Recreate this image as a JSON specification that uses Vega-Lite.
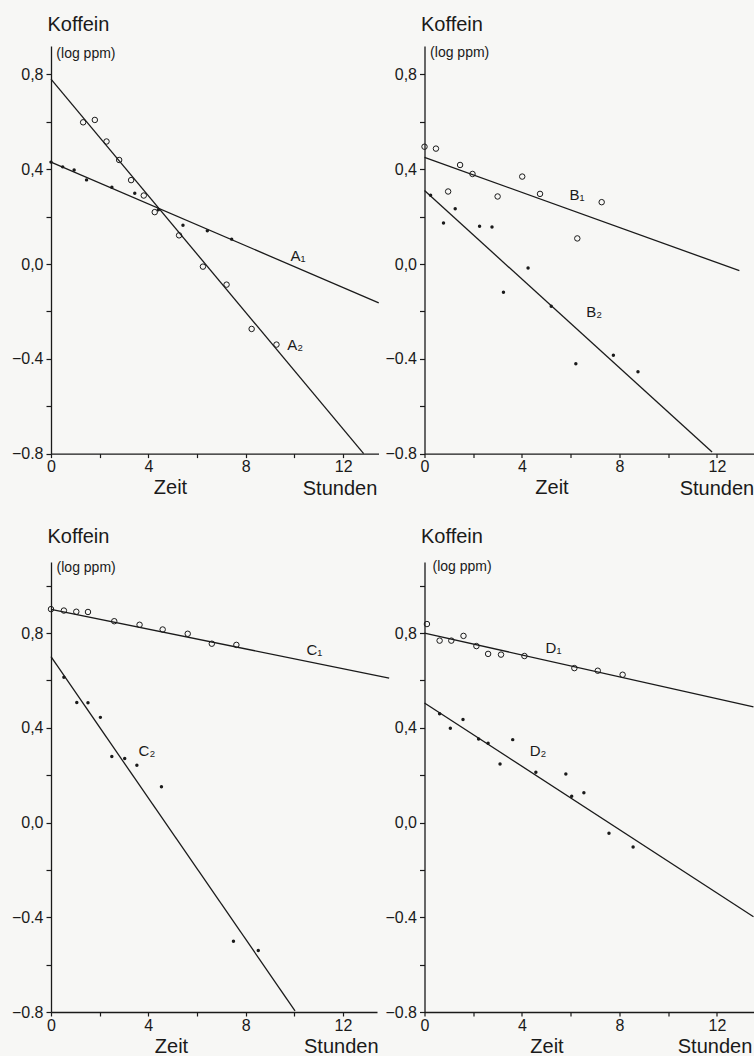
{
  "$schema": "https://vega.github.io/schema/vega-lite/v6.json",
  "background": "#f7f7f5",
  "padding": {"left": 11, "top": 14, "right": 0, "bottom": 0},
  "columns": 2,
  "bounds": "flush",
  "spacing": {"row": 108, "column": 45.5},
  "config": {
    "view": {"stroke": null},
    "font": "Liberation Sans",
    "axis": {"domainColor": "#1a1a1a", "domainWidth": 1.3, "tickColor": "#1a1a1a", "tickWidth": 1.2, "tickSize": 5, "labelColor": "#1a1a1a", "labelFontSize": 16, "labelFont": "Liberation Sans", "titleFont": "Liberation Sans", "titleFontSize": 20, "titleFontWeight": "normal", "titleColor": "#1a1a1a", "grid": false, "labelPadding": 3, "labelOverlap": false, "labelFlush": false, "labelBound": false},
    "axisX": {"tickSize": 4, "labelPadding": 1},
    "line": {"color": "#1a1a1a", "strokeWidth": 1.3},
    "point": {"color": "#1a1a1a", "strokeWidth": 1, "opacity": 1},
    "text": {"color": "#1a1a1a", "font": "Liberation Sans"}
  },
  "datasets": {
    "lines": [
      {"p": "A", "s": "A1", "t": 0, "v": 0.43}, {"p": "A", "s": "A1", "t": 13.46, "v": -0.164},
      {"p": "A", "s": "A2", "t": 0, "v": 0.78}, {"p": "A", "s": "A2", "t": 12.84, "v": -0.8},
      {"p": "B", "s": "B1", "t": 0, "v": 0.45}, {"p": "B", "s": "B1", "t": 12.92, "v": -0.028},
      {"p": "B", "s": "B2", "t": 0, "v": 0.31}, {"p": "B", "s": "B2", "t": 11.8, "v": -0.793},
      {"p": "C", "s": "C1", "t": 0, "v": 0.9}, {"p": "C", "s": "C1", "t": 13.9, "v": 0.61},
      {"p": "C", "s": "C2", "t": 0, "v": 0.7}, {"p": "C", "s": "C2", "t": 10.03, "v": -0.795},
      {"p": "D", "s": "D1", "t": 0, "v": 0.8}, {"p": "D", "s": "D1", "t": 13.5, "v": 0.488},
      {"p": "D", "s": "D2", "t": 0, "v": 0.505}, {"p": "D", "s": "D2", "t": 13.5, "v": -0.398}
    ],
    "pts": [
      {"s": "A1", "t": 0, "v": 0.43}, {"s": "A1", "t": 0.48, "v": 0.41}, {"s": "A1", "t": 0.95, "v": 0.397}, {"s": "A1", "t": 1.46, "v": 0.355}, {"s": "A1", "t": 2.5, "v": 0.324}, {"s": "A1", "t": 3.44, "v": 0.299}, {"s": "A1", "t": 4.41, "v": 0.229}, {"s": "A1", "t": 5.42, "v": 0.164}, {"s": "A1", "t": 6.42, "v": 0.14}, {"s": "A1", "t": 7.42, "v": 0.105},
      {"s": "A2", "t": 1.32, "v": 0.598}, {"s": "A2", "t": 1.8, "v": 0.608}, {"s": "A2", "t": 2.28, "v": 0.517}, {"s": "A2", "t": 2.8, "v": 0.439}, {"s": "A2", "t": 3.29, "v": 0.354}, {"s": "A2", "t": 3.81, "v": 0.289}, {"s": "A2", "t": 4.26, "v": 0.219}, {"s": "A2", "t": 5.26, "v": 0.121}, {"s": "A2", "t": 6.24, "v": -0.011}, {"s": "A2", "t": 7.21, "v": -0.087}, {"s": "A2", "t": 8.24, "v": -0.274}, {"s": "A2", "t": 9.26, "v": -0.34},
      {"s": "B1", "t": 0, "v": 0.495}, {"s": "B1", "t": 0.47, "v": 0.487}, {"s": "B1", "t": 0.97, "v": 0.306}, {"s": "B1", "t": 1.46, "v": 0.418}, {"s": "B1", "t": 1.97, "v": 0.38}, {"s": "B1", "t": 3.0, "v": 0.285}, {"s": "B1", "t": 4.01, "v": 0.369}, {"s": "B1", "t": 4.74, "v": 0.296}, {"s": "B1", "t": 6.27, "v": 0.108}, {"s": "B1", "t": 7.27, "v": 0.261},
      {"s": "B2", "t": 0.25, "v": 0.29}, {"s": "B2", "t": 0.78, "v": 0.173}, {"s": "B2", "t": 1.26, "v": 0.233}, {"s": "B2", "t": 2.26, "v": 0.159}, {"s": "B2", "t": 2.77, "v": 0.156}, {"s": "B2", "t": 3.24, "v": -0.119}, {"s": "B2", "t": 4.25, "v": -0.017}, {"s": "B2", "t": 5.2, "v": -0.178}, {"s": "B2", "t": 6.21, "v": -0.421}, {"s": "B2", "t": 7.75, "v": -0.385}, {"s": "B2", "t": 8.76, "v": -0.455},
      {"s": "C1", "t": 0, "v": 0.901}, {"s": "C1", "t": 0.53, "v": 0.895}, {"s": "C1", "t": 1.04, "v": 0.89}, {"s": "C1", "t": 1.52, "v": 0.889}, {"s": "C1", "t": 2.6, "v": 0.85}, {"s": "C1", "t": 3.64, "v": 0.835}, {"s": "C1", "t": 4.59, "v": 0.815}, {"s": "C1", "t": 5.62, "v": 0.797}, {"s": "C1", "t": 6.61, "v": 0.755}, {"s": "C1", "t": 7.62, "v": 0.75},
      {"s": "C2", "t": 0.53, "v": 0.613}, {"s": "C2", "t": 1.06, "v": 0.507}, {"s": "C2", "t": 1.52, "v": 0.506}, {"s": "C2", "t": 2.03, "v": 0.444}, {"s": "C2", "t": 2.5, "v": 0.279}, {"s": "C2", "t": 3.03, "v": 0.27}, {"s": "C2", "t": 3.53, "v": 0.242}, {"s": "C2", "t": 4.54, "v": 0.151}, {"s": "C2", "t": 7.5, "v": -0.501}, {"s": "C2", "t": 8.52, "v": -0.54},
      {"s": "D1", "t": 0.1, "v": 0.838}, {"s": "D1", "t": 0.62, "v": 0.768}, {"s": "D1", "t": 1.1, "v": 0.768}, {"s": "D1", "t": 1.6, "v": 0.788}, {"s": "D1", "t": 2.13, "v": 0.745}, {"s": "D1", "t": 2.61, "v": 0.712}, {"s": "D1", "t": 3.14, "v": 0.709}, {"s": "D1", "t": 4.1, "v": 0.703}, {"s": "D1", "t": 6.15, "v": 0.652}, {"s": "D1", "t": 7.11, "v": 0.641}, {"s": "D1", "t": 8.13, "v": 0.624},
      {"s": "D2", "t": 0.62, "v": 0.459}, {"s": "D2", "t": 1.06, "v": 0.398}, {"s": "D2", "t": 1.58, "v": 0.435}, {"s": "D2", "t": 2.22, "v": 0.353}, {"s": "D2", "t": 2.61, "v": 0.335}, {"s": "D2", "t": 3.1, "v": 0.247}, {"s": "D2", "t": 3.62, "v": 0.35}, {"s": "D2", "t": 4.57, "v": 0.212}, {"s": "D2", "t": 5.8, "v": 0.205}, {"s": "D2", "t": 6.04, "v": 0.111}, {"s": "D2", "t": 6.54, "v": 0.126}, {"s": "D2", "t": 7.57, "v": -0.045}, {"s": "D2", "t": 8.56, "v": -0.103}
    ],
    "labels": [
      {"p": "A", "text": "A₁", "t": 9.84, "v": 0.032}, {"p": "A", "text": "A₂", "t": 9.7, "v": -0.34},
      {"p": "B", "text": "B₁", "t": 5.95, "v": 0.292}, {"p": "B", "text": "B₂", "t": 6.64, "v": -0.203},
      {"p": "C", "text": "C₁", "t": 10.5, "v": 0.729}, {"p": "C", "text": "C₂", "t": 3.6, "v": 0.302},
      {"p": "D", "text": "D₁", "t": 4.97, "v": 0.739}, {"p": "D", "text": "D₂", "t": 4.32, "v": 0.3}
    ]
  },
  "concat": [
    {
      "width": 327.5, "height": 407.6,
      "layer": [
        {"data": {"name": "lines"}, "transform": [{"filter": "datum.p == 'A'"}], "mark": {"type": "line", "clip": false}, "encoding": {
          "x": {"field": "t", "type": "quantitative", "scale": {"domain": [0, 13.45], "nice": false, "zero": false}, "axis": {"values": [0, 2, 4, 6, 8, 10, 12], "labelExpr": "datum.value % 4 == 0 ? datum.label : ''", "title": "Zeit", "titleX": 119, "titleY": 40, "titleAlign": "center", "titleBaseline": "alphabetic"}},
          "y": {"field": "v", "type": "quantitative", "scale": {"domain": [-0.8, 0.92], "nice": false, "zero": false}, "axis": {"values": [-0.8, -0.6, -0.4, -0.2, 0, 0.2, 0.4, 0.6, 0.8], "labelExpr": "round(datum.value*10) % 4 == 0 ? (datum.value < 0 ? '−' + format(-datum.value, '.1f') : replace(format(datum.value, '.1f'), '.', ',')) : ''", "title": "Koffein", "titleAngle": 0, "titleAlign": "left", "titleBaseline": "alphabetic", "titleX": -4, "titleY": -16}},
          "detail": {"field": "s"}}},
        {"data": {"name": "pts"}, "transform": [{"filter": "datum.s == 'A2'"}], "mark": {"type": "point", "shape": "circle", "filled": false, "size": 30}, "encoding": {"x": {"field": "t", "type": "quantitative"}, "y": {"field": "v", "type": "quantitative"}}},
        {"data": {"name": "pts"}, "transform": [{"filter": "datum.s == 'A1'"}], "mark": {"type": "point", "shape": "circle", "filled": true, "size": 12}, "encoding": {"x": {"field": "t", "type": "quantitative"}, "y": {"field": "v", "type": "quantitative"}}},
        {"data": {"name": "labels"}, "transform": [{"filter": "datum.p == 'A'"}], "mark": {"type": "text", "align": "left", "baseline": "middle", "fontSize": 15}, "encoding": {"x": {"field": "t", "type": "quantitative"}, "y": {"field": "v", "type": "quantitative"}, "text": {"field": "text"}}},
        {"data": {"values": [{}]}, "mark": {"type": "text", "text": "(log ppm)", "align": "left", "baseline": "middle", "fontSize": 14}, "encoding": {"x": {"datum": 0.22, "type": "quantitative"}, "y": {"datum": 0.886, "type": "quantitative"}}},
        {"data": {"values": [{}]}, "mark": {"type": "text", "text": "Stunden", "align": "center", "baseline": "alphabetic", "fontSize": 20}, "encoding": {"x": {"datum": 11.87, "type": "quantitative"}, "y": {"datum": -0.976, "type": "quantitative"}}}
      ]
    },
    {
      "width": 329, "height": 407.6,
      "layer": [
        {"data": {"name": "lines"}, "transform": [{"filter": "datum.p == 'B'"}], "mark": {"type": "line", "clip": false}, "encoding": {
          "x": {"field": "t", "type": "quantitative", "scale": {"domain": [0, 13.5], "nice": false, "zero": false}, "axis": {"values": [0, 2, 4, 6, 8, 10, 12], "labelExpr": "datum.value % 4 == 0 ? datum.label : ''", "title": "Zeit", "titleX": 127, "titleY": 40, "titleAlign": "center", "titleBaseline": "alphabetic"}},
          "y": {"field": "v", "type": "quantitative", "scale": {"domain": [-0.8, 0.92], "nice": false, "zero": false}, "axis": {"values": [-0.8, -0.6, -0.4, -0.2, 0, 0.2, 0.4, 0.6, 0.8], "labelExpr": "round(datum.value*10) % 4 == 0 ? (datum.value < 0 ? '−' + format(-datum.value, '.1f') : replace(format(datum.value, '.1f'), '.', ',')) : ''", "title": "Koffein", "titleAngle": 0, "titleAlign": "left", "titleBaseline": "alphabetic", "titleX": -4, "titleY": -16}},
          "detail": {"field": "s"}}},
        {"data": {"name": "pts"}, "transform": [{"filter": "datum.s == 'B1'"}], "mark": {"type": "point", "shape": "circle", "filled": false, "size": 30}, "encoding": {"x": {"field": "t", "type": "quantitative"}, "y": {"field": "v", "type": "quantitative"}}},
        {"data": {"name": "pts"}, "transform": [{"filter": "datum.s == 'B2'"}], "mark": {"type": "point", "shape": "circle", "filled": true, "size": 12}, "encoding": {"x": {"field": "t", "type": "quantitative"}, "y": {"field": "v", "type": "quantitative"}}},
        {"data": {"name": "labels"}, "transform": [{"filter": "datum.p == 'B'"}], "mark": {"type": "text", "align": "left", "baseline": "middle", "fontSize": 15}, "encoding": {"x": {"field": "t", "type": "quantitative"}, "y": {"field": "v", "type": "quantitative"}, "text": {"field": "text"}}},
        {"data": {"values": [{}]}, "mark": {"type": "text", "text": "(log ppm)", "align": "left", "baseline": "middle", "fontSize": 14}, "encoding": {"x": {"datum": 0.23, "type": "quantitative"}, "y": {"datum": 0.89, "type": "quantitative"}}},
        {"data": {"values": [{}]}, "mark": {"type": "text", "text": "Stunden", "align": "center", "baseline": "alphabetic", "fontSize": 20}, "encoding": {"x": {"datum": 12.0, "type": "quantitative"}, "y": {"datum": -0.976, "type": "quantitative"}}}
      ]
    },
    {
      "width": 326, "height": 450,
      "layer": [
        {"data": {"name": "lines"}, "transform": [{"filter": "datum.p == 'C'"}], "mark": {"type": "line", "clip": false}, "encoding": {
          "x": {"field": "t", "type": "quantitative", "scale": {"domain": [0, 13.4], "nice": false, "zero": false}, "axis": {"values": [0, 2, 4, 6, 8, 10, 12], "labelExpr": "datum.value % 4 == 0 ? datum.label : ''", "title": "Zeit", "titleX": 120, "titleY": 40, "titleAlign": "center", "titleBaseline": "alphabetic"}},
          "y": {"field": "v", "type": "quantitative", "scale": {"domain": [-0.8, 1.1], "nice": false, "zero": false}, "axis": {"values": [-0.8, -0.6, -0.4, -0.2, 0, 0.2, 0.4, 0.6, 0.8, 1.0], "labelExpr": "round(datum.value*10) % 4 == 0 ? (datum.value < 0 ? '−' + format(-datum.value, '.1f') : replace(format(datum.value, '.1f'), '.', ',')) : ''", "title": "Koffein", "titleAngle": 0, "titleAlign": "left", "titleBaseline": "alphabetic", "titleX": -4, "titleY": -20}},
          "detail": {"field": "s"}}},
        {"data": {"name": "pts"}, "transform": [{"filter": "datum.s == 'C1'"}], "mark": {"type": "point", "shape": "circle", "filled": false, "size": 30}, "encoding": {"x": {"field": "t", "type": "quantitative"}, "y": {"field": "v", "type": "quantitative"}}},
        {"data": {"name": "pts"}, "transform": [{"filter": "datum.s == 'C2'"}], "mark": {"type": "point", "shape": "circle", "filled": true, "size": 12}, "encoding": {"x": {"field": "t", "type": "quantitative"}, "y": {"field": "v", "type": "quantitative"}}},
        {"data": {"name": "labels"}, "transform": [{"filter": "datum.p == 'C'"}], "mark": {"type": "text", "align": "left", "baseline": "middle", "fontSize": 15}, "encoding": {"x": {"field": "t", "type": "quantitative"}, "y": {"field": "v", "type": "quantitative"}, "text": {"field": "text"}}},
        {"data": {"values": [{}]}, "mark": {"type": "text", "text": "(log ppm)", "align": "left", "baseline": "middle", "fontSize": 14}, "encoding": {"x": {"datum": 0.23, "type": "quantitative"}, "y": {"datum": 1.075, "type": "quantitative"}}},
        {"data": {"values": [{}]}, "mark": {"type": "text", "text": "Stunden", "align": "center", "baseline": "alphabetic", "fontSize": 20}, "encoding": {"x": {"datum": 11.93, "type": "quantitative"}, "y": {"datum": -0.972, "type": "quantitative"}}}
      ]
    },
    {
      "width": 329, "height": 450,
      "layer": [
        {"data": {"name": "lines"}, "transform": [{"filter": "datum.p == 'D'"}], "mark": {"type": "line", "clip": false}, "encoding": {
          "x": {"field": "t", "type": "quantitative", "scale": {"domain": [0, 13.5], "nice": false, "zero": false}, "axis": {"values": [0, 2, 4, 6, 8, 10, 12], "labelExpr": "datum.value % 4 == 0 ? datum.label : ''", "title": "Zeit", "titleX": 122, "titleY": 40, "titleAlign": "center", "titleBaseline": "alphabetic"}},
          "y": {"field": "v", "type": "quantitative", "scale": {"domain": [-0.8, 1.1], "nice": false, "zero": false}, "axis": {"values": [-0.8, -0.6, -0.4, -0.2, 0, 0.2, 0.4, 0.6, 0.8, 1.0], "labelExpr": "round(datum.value*10) % 4 == 0 ? (datum.value < 0 ? '−' + format(-datum.value, '.1f') : replace(format(datum.value, '.1f'), '.', ',')) : ''", "title": "Koffein", "titleAngle": 0, "titleAlign": "left", "titleBaseline": "alphabetic", "titleX": -4, "titleY": -20}},
          "detail": {"field": "s"}}},
        {"data": {"name": "pts"}, "transform": [{"filter": "datum.s == 'D1'"}], "mark": {"type": "point", "shape": "circle", "filled": false, "size": 30}, "encoding": {"x": {"field": "t", "type": "quantitative"}, "y": {"field": "v", "type": "quantitative"}}},
        {"data": {"name": "pts"}, "transform": [{"filter": "datum.s == 'D2'"}], "mark": {"type": "point", "shape": "circle", "filled": true, "size": 12}, "encoding": {"x": {"field": "t", "type": "quantitative"}, "y": {"field": "v", "type": "quantitative"}}},
        {"data": {"name": "labels"}, "transform": [{"filter": "datum.p == 'D'"}], "mark": {"type": "text", "align": "left", "baseline": "middle", "fontSize": 15}, "encoding": {"x": {"field": "t", "type": "quantitative"}, "y": {"field": "v", "type": "quantitative"}, "text": {"field": "text"}}},
        {"data": {"values": [{}]}, "mark": {"type": "text", "text": "(log ppm)", "align": "left", "baseline": "middle", "fontSize": 14}, "encoding": {"x": {"datum": 0.33, "type": "quantitative"}, "y": {"datum": 1.08, "type": "quantitative"}}},
        {"data": {"values": [{}]}, "mark": {"type": "text", "text": "Stunden", "align": "center", "baseline": "alphabetic", "fontSize": 20}, "encoding": {"x": {"datum": 11.92, "type": "quantitative"}, "y": {"datum": -0.972, "type": "quantitative"}}}
      ]
    }
  ]
}
